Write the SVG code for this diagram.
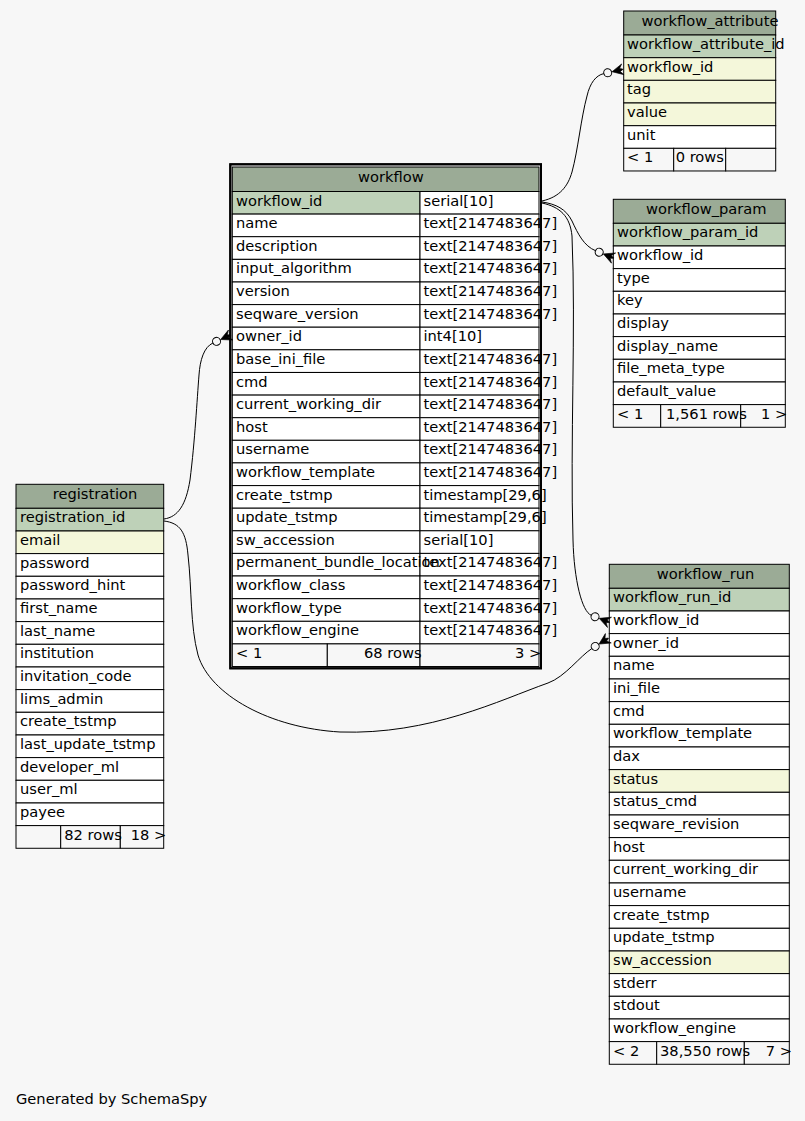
<svg xmlns="http://www.w3.org/2000/svg" width="805" height="1121" viewBox="0 0 805 1121">
<style>
.c{stroke:#000;stroke-width:1}
.hd{fill:#9bab96}
.pk{fill:#bed1b8}
.ix{fill:#f4f7da}
.bd{fill:#ffffff}
.ft{fill:#f7f7f7}
text{font-family:"DejaVu Sans","Liberation Sans",sans-serif;font-size:14.67px;fill:#000}
.e{fill:none;stroke:#000;stroke-width:1}
</style>
<defs>
<marker id="crow" markerUnits="userSpaceOnUse" markerWidth="24" markerHeight="14" refX="0" refY="7" orient="auto" viewBox="0 0 24 14" overflow="visible">
<circle cx="4" cy="7" r="4" fill="#f7f7f7" stroke="#000" stroke-width="1"/>
<path d="M8.5,7 L19.5,1.5 L16.5,5.5 L19.5,6.8 L19.5,7.2 L16.5,8.5 L19.5,12.5 Z" fill="#000" stroke="#000" stroke-width="0.6" stroke-linejoin="miter"/>
</marker>
</defs>
<rect x="0" y="0" width="805" height="1121" fill="#f7f7f7"/>

<g id="workflow">
<rect x="230.3" y="164.3" width="310.7" height="504" fill="#fff" stroke="#000" stroke-width="2"/>
<rect class="c hd" x="232.3" y="167" width="306.7" height="24.5"/>
<rect class="c pk" x="232.3" y="191.5" width="187.7" height="22.62"/><rect class="c bd" x="420" y="191.5" width="119" height="22.62"/>
<rect class="c bd" x="232.3" y="214.1" width="187.7" height="22.62"/><rect class="c bd" x="420" y="214.1" width="119" height="22.62"/>
<rect class="c bd" x="232.3" y="236.7" width="187.7" height="22.62"/><rect class="c bd" x="420" y="236.7" width="119" height="22.62"/>
<rect class="c bd" x="232.3" y="259.4" width="187.7" height="22.62"/><rect class="c bd" x="420" y="259.4" width="119" height="22.62"/>
<rect class="c bd" x="232.3" y="282" width="187.7" height="22.62"/><rect class="c bd" x="420" y="282" width="119" height="22.62"/>
<rect class="c bd" x="232.3" y="304.6" width="187.7" height="22.62"/><rect class="c bd" x="420" y="304.6" width="119" height="22.62"/>
<rect class="c bd" x="232.3" y="327.2" width="187.7" height="22.62"/><rect class="c bd" x="420" y="327.2" width="119" height="22.62"/>
<rect class="c bd" x="232.3" y="349.8" width="187.7" height="22.62"/><rect class="c bd" x="420" y="349.8" width="119" height="22.62"/>
<rect class="c bd" x="232.3" y="372.5" width="187.7" height="22.62"/><rect class="c bd" x="420" y="372.5" width="119" height="22.62"/>
<rect class="c bd" x="232.3" y="395.1" width="187.7" height="22.62"/><rect class="c bd" x="420" y="395.1" width="119" height="22.62"/>
<rect class="c bd" x="232.3" y="417.7" width="187.7" height="22.62"/><rect class="c bd" x="420" y="417.7" width="119" height="22.62"/>
<rect class="c bd" x="232.3" y="440.3" width="187.7" height="22.62"/><rect class="c bd" x="420" y="440.3" width="119" height="22.62"/>
<rect class="c bd" x="232.3" y="462.9" width="187.7" height="22.62"/><rect class="c bd" x="420" y="462.9" width="119" height="22.62"/>
<rect class="c bd" x="232.3" y="485.6" width="187.7" height="22.62"/><rect class="c bd" x="420" y="485.6" width="119" height="22.62"/>
<rect class="c bd" x="232.3" y="508.2" width="187.7" height="22.62"/><rect class="c bd" x="420" y="508.2" width="119" height="22.62"/>
<rect class="c bd" x="232.3" y="530.8" width="187.7" height="22.62"/><rect class="c bd" x="420" y="530.8" width="119" height="22.62"/>
<rect class="c bd" x="232.3" y="553.4" width="187.7" height="22.62"/><rect class="c bd" x="420" y="553.4" width="119" height="22.62"/>
<rect class="c bd" x="232.3" y="576" width="187.7" height="22.62"/><rect class="c bd" x="420" y="576" width="119" height="22.62"/>
<rect class="c bd" x="232.3" y="598.7" width="187.7" height="22.62"/><rect class="c bd" x="420" y="598.7" width="119" height="22.62"/>
<rect class="c bd" x="232.3" y="621.3" width="187.7" height="22.62"/><rect class="c bd" x="420" y="621.3" width="119" height="22.62"/>
<rect class="c ft" x="232.3" y="643.9" width="95" height="22.62"/><rect class="c ft" x="327.3" y="643.9" width="92.7" height="22.62"/><rect class="c ft" x="420" y="643.9" width="119" height="22.62"/>
<text x="358" y="181.5">workflow</text>
<text x="236" y="205.5">workflow_id</text><text x="423.5" y="205.5">serial[10]</text>
<text x="236" y="228.1">name</text><text x="423.5" y="228.1">text[2147483647]</text>
<text x="236" y="250.7">description</text><text x="423.5" y="250.7">text[2147483647]</text>
<text x="236" y="273.4">input_algorithm</text><text x="423.5" y="273.4">text[2147483647]</text>
<text x="236" y="296">version</text><text x="423.5" y="296">text[2147483647]</text>
<text x="236" y="318.6">seqware_version</text><text x="423.5" y="318.6">text[2147483647]</text>
<text x="236" y="341.2">owner_id</text><text x="423.5" y="341.2">int4[10]</text>
<text x="236" y="363.8">base_ini_file</text><text x="423.5" y="363.8">text[2147483647]</text>
<text x="236" y="386.5">cmd</text><text x="423.5" y="386.5">text[2147483647]</text>
<text x="236" y="409.1">current_working_dir</text><text x="423.5" y="409.1">text[2147483647]</text>
<text x="236" y="431.7">host</text><text x="423.5" y="431.7">text[2147483647]</text>
<text x="236" y="454.3">username</text><text x="423.5" y="454.3">text[2147483647]</text>
<text x="236" y="476.9">workflow_template</text><text x="423.5" y="476.9">text[2147483647]</text>
<text x="236" y="499.6">create_tstmp</text><text x="423.5" y="499.6">timestamp[29,6]</text>
<text x="236" y="522.2">update_tstmp</text><text x="423.5" y="522.2">timestamp[29,6]</text>
<text x="236" y="544.8">sw_accession</text><text x="423.5" y="544.8">serial[10]</text>
<text x="236" y="567.4">permanent_bundle_location</text><text x="423.5" y="567.4">text[2147483647]</text>
<text x="236" y="590">workflow_class</text><text x="423.5" y="590">text[2147483647]</text>
<text x="236" y="612.7">workflow_type</text><text x="423.5" y="612.7">text[2147483647]</text>
<text x="236" y="635.3">workflow_engine</text><text x="423.5" y="635.3">text[2147483647]</text>
<text x="236" y="657.9">&lt; 1</text><text x="364" y="657.9">68 rows</text><text x="515" y="657.9">3 &gt;</text>
<rect x="230.3" y="164.3" width="310.7" height="504" fill="none" stroke="#000" stroke-width="2"/>
</g>

<g id="workflow_attribute">
<rect class="c hd" x="623.7" y="11" width="152" height="24"/>
<rect class="c pk" x="623.7" y="35" width="152" height="22.67"/>
<rect class="c ix" x="623.7" y="57.7" width="152" height="22.67"/>
<rect class="c ix" x="623.7" y="80.3" width="152" height="22.67"/>
<rect class="c ix" x="623.7" y="103" width="152" height="22.67"/>
<rect class="c bd" x="623.7" y="125.7" width="152" height="22.67"/>
<rect class="c ft" x="623.7" y="148.3" width="50" height="22.67"/><rect class="c ft" x="673.7" y="148.3" width="52" height="22.67"/><rect class="c ft" x="725.7" y="148.3" width="50" height="22.67"/>
<text x="641.5" y="25.5">workflow_attribute</text>
<text x="627" y="49">workflow_attribute_id</text>
<text x="627" y="71.7">workflow_id</text>
<text x="627" y="94.3">tag</text>
<text x="627" y="117">value</text>
<text x="627" y="139.7">unit</text>
<text x="627" y="162.3">&lt; 1</text><text x="675.7" y="162.3">0 rows</text>
</g>

<g id="workflow_param">
<rect class="c hd" x="613.3" y="199.3" width="172" height="24"/>
<rect class="c pk" x="613.3" y="223.3" width="172" height="22.67"/>
<rect class="c bd" x="613.3" y="246" width="172" height="22.67"/>
<rect class="c bd" x="613.3" y="268.6" width="172" height="22.67"/>
<rect class="c bd" x="613.3" y="291.3" width="172" height="22.67"/>
<rect class="c bd" x="613.3" y="314" width="172" height="22.67"/>
<rect class="c bd" x="613.3" y="336.6" width="172" height="22.67"/>
<rect class="c bd" x="613.3" y="359.3" width="172" height="22.67"/>
<rect class="c bd" x="613.3" y="382" width="172" height="22.67"/>
<rect class="c ft" x="613.3" y="404.6" width="47.4" height="22.67"/><rect class="c ft" x="660.7" y="404.6" width="80" height="22.67"/><rect class="c ft" x="740.7" y="404.6" width="44.6" height="22.67"/>
<text x="646" y="213.8">workflow_param</text>
<text x="617" y="237.3">workflow_param_id</text>
<text x="617" y="260">workflow_id</text>
<text x="617" y="282.6">type</text>
<text x="617" y="305.3">key</text>
<text x="617" y="328">display</text>
<text x="617" y="350.6">display_name</text>
<text x="617" y="373.3">file_meta_type</text>
<text x="617" y="396">default_value</text>
<text x="617" y="418.6">&lt; 1</text><text x="666" y="418.6">1,561 rows</text><text x="761" y="418.6">1 &gt;</text>
</g>

<g id="registration">
<rect class="c hd" x="16" y="484.3" width="147.7" height="24"/>
<rect class="c pk" x="16" y="508.3" width="147.7" height="22.67"/>
<rect class="c ix" x="16" y="531" width="147.7" height="22.67"/>
<rect class="c bd" x="16" y="553.6" width="147.7" height="22.67"/>
<rect class="c bd" x="16" y="576.3" width="147.7" height="22.67"/>
<rect class="c bd" x="16" y="599" width="147.7" height="22.67"/>
<rect class="c bd" x="16" y="621.6" width="147.7" height="22.67"/>
<rect class="c bd" x="16" y="644.3" width="147.7" height="22.67"/>
<rect class="c bd" x="16" y="667" width="147.7" height="22.67"/>
<rect class="c bd" x="16" y="689.6" width="147.7" height="22.67"/>
<rect class="c bd" x="16" y="712.3" width="147.7" height="22.67"/>
<rect class="c bd" x="16" y="735" width="147.7" height="22.67"/>
<rect class="c bd" x="16" y="757.6" width="147.7" height="22.67"/>
<rect class="c bd" x="16" y="780.3" width="147.7" height="22.67"/>
<rect class="c bd" x="16" y="803" width="147.7" height="22.67"/>
<rect class="c ft" x="16" y="825.6" width="44.7" height="22.67"/><rect class="c ft" x="60.7" y="825.6" width="59.6" height="22.67"/><rect class="c ft" x="120.3" y="825.6" width="43.4" height="22.67"/>
<text x="52.7" y="498.8">registration</text>
<text x="20" y="522.3">registration_id</text>
<text x="20" y="545">email</text>
<text x="20" y="567.6">password</text>
<text x="20" y="590.3">password_hint</text>
<text x="20" y="613">first_name</text>
<text x="20" y="635.6">last_name</text>
<text x="20" y="658.3">institution</text>
<text x="20" y="681">invitation_code</text>
<text x="20" y="703.6">lims_admin</text>
<text x="20" y="726.3">create_tstmp</text>
<text x="20" y="749">last_update_tstmp</text>
<text x="20" y="771.6">developer_ml</text>
<text x="20" y="794.3">user_ml</text>
<text x="20" y="817">payee</text>
<text x="64.3" y="839.6">82 rows</text><text x="130.7" y="839.6">18 &gt;</text>
</g>

<g id="workflow_run">
<rect class="c hd" x="609.3" y="564.3" width="180" height="24"/>
<rect class="c pk" x="609.3" y="588.3" width="180" height="22.67"/>
<rect class="c bd" x="609.3" y="611" width="180" height="22.67"/>
<rect class="c bd" x="609.3" y="633.6" width="180" height="22.67"/>
<rect class="c bd" x="609.3" y="656.3" width="180" height="22.67"/>
<rect class="c bd" x="609.3" y="679" width="180" height="22.67"/>
<rect class="c bd" x="609.3" y="701.6" width="180" height="22.67"/>
<rect class="c bd" x="609.3" y="724.3" width="180" height="22.67"/>
<rect class="c bd" x="609.3" y="747" width="180" height="22.67"/>
<rect class="c ix" x="609.3" y="769.6" width="180" height="22.67"/>
<rect class="c bd" x="609.3" y="792.3" width="180" height="22.67"/>
<rect class="c bd" x="609.3" y="815" width="180" height="22.67"/>
<rect class="c bd" x="609.3" y="837.6" width="180" height="22.67"/>
<rect class="c bd" x="609.3" y="860.3" width="180" height="22.67"/>
<rect class="c bd" x="609.3" y="883" width="180" height="22.67"/>
<rect class="c bd" x="609.3" y="905.6" width="180" height="22.67"/>
<rect class="c bd" x="609.3" y="928.3" width="180" height="22.67"/>
<rect class="c ix" x="609.3" y="951" width="180" height="22.67"/>
<rect class="c bd" x="609.3" y="973.6" width="180" height="22.67"/>
<rect class="c bd" x="609.3" y="996.3" width="180" height="22.67"/>
<rect class="c bd" x="609.3" y="1019" width="180" height="22.67"/>
<rect class="c ft" x="609.3" y="1041.6" width="47.4" height="22.67"/><rect class="c ft" x="656.7" y="1041.6" width="87.6" height="22.67"/><rect class="c ft" x="744.3" y="1041.6" width="45" height="22.67"/>
<text x="656.7" y="578.8">workflow_run</text>
<text x="613" y="602.3">workflow_run_id</text>
<text x="613" y="625">workflow_id</text>
<text x="613" y="647.6">owner_id</text>
<text x="613" y="670.3">name</text>
<text x="613" y="693">ini_file</text>
<text x="613" y="715.6">cmd</text>
<text x="613" y="738.3">workflow_template</text>
<text x="613" y="761">dax</text>
<text x="613" y="783.6">status</text>
<text x="613" y="806.3">status_cmd</text>
<text x="613" y="829">seqware_revision</text>
<text x="613" y="851.6">host</text>
<text x="613" y="874.3">current_working_dir</text>
<text x="613" y="897">username</text>
<text x="613" y="919.6">create_tstmp</text>
<text x="613" y="942.3">update_tstmp</text>
<text x="613" y="965">sw_accession</text>
<text x="613" y="987.6">stderr</text>
<text x="613" y="1010.3">stdout</text>
<text x="613" y="1033">workflow_engine</text>
<text x="613" y="1055.6">&lt; 2</text><text x="660" y="1055.6">38,550 rows</text><text x="765.7" y="1055.6">7 &gt;</text>
</g>

<g id="connectors">
<path class="e" marker-end="url(#crow)" d="M542,201 C560,197 568,186 572,172 C578,150 581,118 587,96 C590,83 595.8,75.4 603.8,73.6"/>
<path class="e" marker-end="url(#crow)" d="M542,202 C556,204 566,209 572,221 C578,234 584,246 595.5,250.7"/>
<path class="e" marker-end="url(#crow)" d="M542,203 C560,207 570,216 572,236 C576,330 570,440 573,540 C574,580 582,611.7 591.3,615.3"/>
<path class="e" marker-end="url(#crow)" d="M164,519 C178,517 186,505 190,480 C195,440 197,400 199,375 C200,360 204,347 212.9,343"/>
<path class="e" marker-end="url(#crow)" d="M164,521 C180,523 186,532 188,555 C192,590 190,625 198,655 C210,695 270,728 340,732 C430,735 500,700 548,683 C565,677 580,656 591.8,648.6"/>
</g>

<text x="16" y="1103.5">Generated by SchemaSpy</text>
</svg>
